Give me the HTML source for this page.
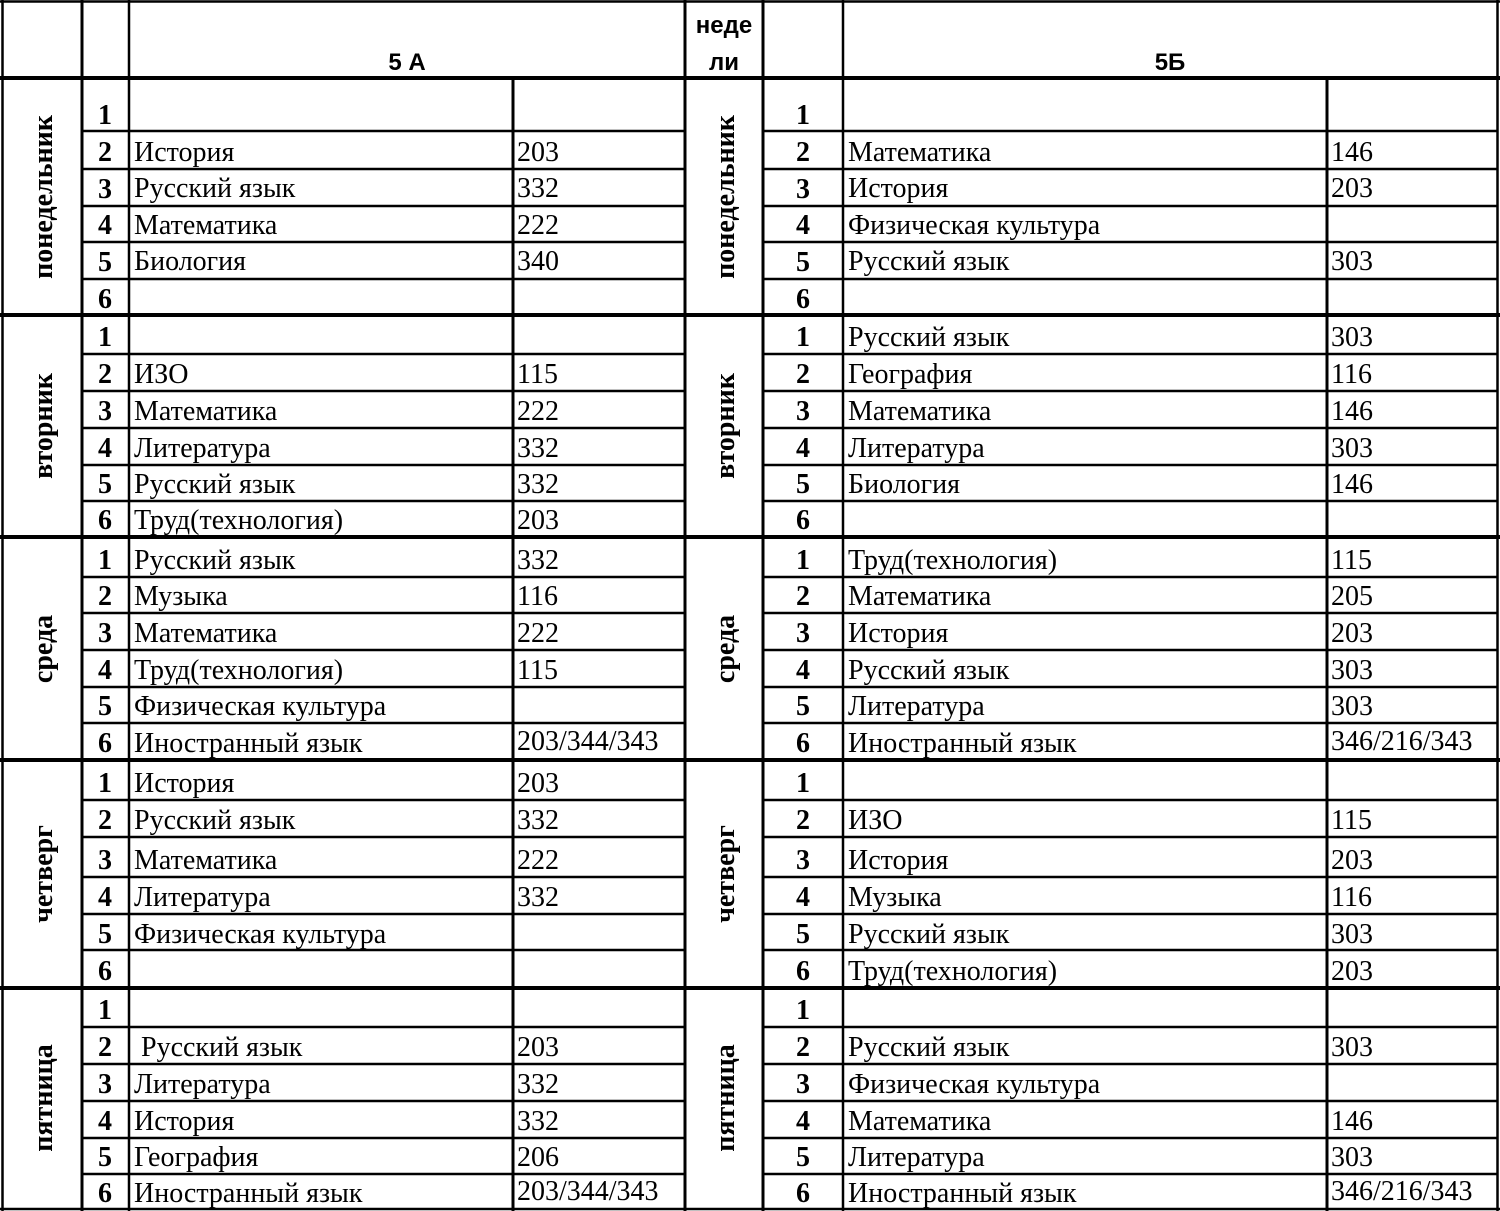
<!DOCTYPE html>
<html><head><meta charset="utf-8"><style>
html,body{margin:0;padding:0;background:#fff}
svg{display:block}
.s{font-family:"Liberation Serif","DejaVu Serif",serif;font-size:28px;fill:#000}
.n{font-family:"Liberation Serif",serif;font-size:28px;font-weight:bold;text-anchor:middle}
.d{font-family:"Liberation Serif",serif;font-size:28px;font-weight:bold;text-anchor:middle}
.h{font-family:"Liberation Sans","DejaVu Sans",sans-serif;font-size:24px;font-weight:bold;text-anchor:middle}
</style></head><body>
<svg width="1500" height="1211" xmlns="http://www.w3.org/2000/svg">
<g stroke="#000" stroke-width="2.5">
<line x1="0" y1="1.5" x2="1500" y2="1.5"/>
<line x1="0" y1="1209" x2="1500" y2="1209"/>
<line x1="2.5" y1="0" x2="2.5" y2="1211"/>
<line x1="1497.5" y1="0" x2="1497.5" y2="1211"/>
<line x1="82" y1="0" x2="82" y2="1211" stroke-width="3"/>
<line x1="129" y1="0" x2="129" y2="1211"/>
<line x1="685" y1="0" x2="685" y2="1211" stroke-width="3"/>
<line x1="763" y1="0" x2="763" y2="1211" stroke-width="3"/>
<line x1="843" y1="0" x2="843" y2="1211"/>
<line x1="513" y1="78" x2="513" y2="1211" stroke-width="3"/>
<line x1="1327" y1="78" x2="1327" y2="1211" stroke-width="3"/>
<g stroke-width="4">
<line x1="0" y1="78" x2="1500" y2="78"/>
<line x1="0" y1="315" x2="1500" y2="315"/>
<line x1="0" y1="537" x2="1500" y2="537"/>
<line x1="0" y1="760" x2="1500" y2="760"/>
<line x1="0" y1="988" x2="1500" y2="988"/>
</g>
<path d="M82 131H685M82 169H685M82 206H685M82 242H685M82 279H685
M82 354H685M82 391H685M82 428H685M82 465H685M82 501H685
M82 577H685M82 613H685M82 650H685M82 687H685M82 723H685
M82 800H685M82 837H685M82 877H685M82 914H685M82 950H685
M82 1027H685M82 1064H685M82 1101H685M82 1138H685M82 1174H685
M763 131H1497M763 169H1497M763 206H1497M763 242H1497M763 279H1497
M763 354H1497M763 391H1497M763 428H1497M763 465H1497M763 501H1497
M763 577H1497M763 613H1497M763 650H1497M763 687H1497M763 723H1497
M763 800H1497M763 837H1497M763 877H1497M763 914H1497M763 950H1497
M763 1027H1497M763 1064H1497M763 1101H1497M763 1138H1497M763 1174H1497" fill="none"/>
</g>
<text class="h" x="407" y="70">5 А</text>
<text class="h" x="1170" y="70">5Б</text>
<text class="h" x="724" y="33">неде</text>
<text class="h" x="724" y="70">ли</text>
<text class="d" transform="translate(52,197) rotate(-90)">понедельник</text>
<text class="d" transform="translate(52,426) rotate(-90)">вторник</text>
<text class="d" transform="translate(52,649) rotate(-90)">среда</text>
<text class="d" transform="translate(52,874) rotate(-90)">четверг</text>
<text class="d" transform="translate(52,1098) rotate(-90)">пятница</text>
<text class="d" transform="translate(734,197) rotate(-90)">понедельник</text>
<text class="d" transform="translate(734,426) rotate(-90)">вторник</text>
<text class="d" transform="translate(734,649) rotate(-90)">среда</text>
<text class="d" transform="translate(734,874) rotate(-90)">четверг</text>
<text class="d" transform="translate(734,1098) rotate(-90)">пятница</text>
<g class="n">
<text x="105" y="124">1</text><text x="105" y="161">2</text><text x="105" y="198">3</text><text x="105" y="234">4</text><text x="105" y="271">5</text><text x="105" y="308">6</text>
<text x="105" y="346">1</text><text x="105" y="383">2</text><text x="105" y="420">3</text><text x="105" y="457">4</text><text x="105" y="493">5</text><text x="105" y="529">6</text>
<text x="105" y="569">1</text><text x="105" y="605">2</text><text x="105" y="642">3</text><text x="105" y="679">4</text><text x="105" y="715">5</text><text x="105" y="752">6</text>
<text x="105" y="792">1</text><text x="105" y="829">2</text><text x="105" y="869">3</text><text x="105" y="906">4</text><text x="105" y="943">5</text><text x="105" y="980">6</text>
<text x="105" y="1019">1</text><text x="105" y="1056">2</text><text x="105" y="1093">3</text><text x="105" y="1130">4</text><text x="105" y="1166">5</text><text x="105" y="1202">6</text>
<text x="803" y="124">1</text><text x="803" y="161">2</text><text x="803" y="198">3</text><text x="803" y="234">4</text><text x="803" y="271">5</text><text x="803" y="308">6</text>
<text x="803" y="346">1</text><text x="803" y="383">2</text><text x="803" y="420">3</text><text x="803" y="457">4</text><text x="803" y="493">5</text><text x="803" y="529">6</text>
<text x="803" y="569">1</text><text x="803" y="605">2</text><text x="803" y="642">3</text><text x="803" y="679">4</text><text x="803" y="715">5</text><text x="803" y="752">6</text>
<text x="803" y="792">1</text><text x="803" y="829">2</text><text x="803" y="869">3</text><text x="803" y="906">4</text><text x="803" y="943">5</text><text x="803" y="980">6</text>
<text x="803" y="1019">1</text><text x="803" y="1056">2</text><text x="803" y="1093">3</text><text x="803" y="1130">4</text><text x="803" y="1166">5</text><text x="803" y="1202">6</text>
</g>
<g class="s">
<text x="134" y="161">История</text><text x="517" y="161">203</text>
<text x="134" y="197">Русский язык</text><text x="517" y="197">332</text>
<text x="134" y="234">Математика</text><text x="517" y="234">222</text>
<text x="134" y="270">Биология</text><text x="517" y="270">340</text>
<text x="134" y="383">ИЗО</text><text x="517" y="383">115</text>
<text x="134" y="420">Математика</text><text x="517" y="420">222</text>
<text x="134" y="457">Литература</text><text x="517" y="457">332</text>
<text x="134" y="493">Русский язык</text><text x="517" y="493">332</text>
<text x="134" y="529">Труд(технология)</text><text x="517" y="529">203</text>
<text x="134" y="569">Русский язык</text><text x="517" y="569">332</text>
<text x="134" y="605">Музыка</text><text x="517" y="605">116</text>
<text x="134" y="642">Математика</text><text x="517" y="642">222</text>
<text x="134" y="679">Труд(технология)</text><text x="517" y="679">115</text>
<text x="134" y="715">Физическая культура</text>
<text x="134" y="752">Иностранный язык</text><text x="517" y="750">203/344/343</text>
<text x="134" y="792">История</text><text x="517" y="792">203</text>
<text x="134" y="829">Русский язык</text><text x="517" y="829">332</text>
<text x="134" y="869">Математика</text><text x="517" y="869">222</text>
<text x="134" y="906">Литература</text><text x="517" y="906">332</text>
<text x="134" y="943">Физическая культура</text>
<text x="141" y="1056">Русский язык</text><text x="517" y="1056">203</text>
<text x="134" y="1093">Литература</text><text x="517" y="1093">332</text>
<text x="134" y="1130">История</text><text x="517" y="1130">332</text>
<text x="134" y="1166">География</text><text x="517" y="1166">206</text>
<text x="134" y="1202">Иностранный язык</text><text x="517" y="1200">203/344/343</text>
<text x="848" y="161">Математика</text><text x="1331" y="161">146</text>
<text x="848" y="197">История</text><text x="1331" y="197">203</text>
<text x="848" y="234">Физическая культура</text>
<text x="848" y="270">Русский язык</text><text x="1331" y="270">303</text>
<text x="848" y="346">Русский язык</text><text x="1331" y="346">303</text>
<text x="848" y="383">География</text><text x="1331" y="383">116</text>
<text x="848" y="420">Математика</text><text x="1331" y="420">146</text>
<text x="848" y="457">Литература</text><text x="1331" y="457">303</text>
<text x="848" y="493">Биология</text><text x="1331" y="493">146</text>
<text x="848" y="569">Труд(технология)</text><text x="1331" y="569">115</text>
<text x="848" y="605">Математика</text><text x="1331" y="605">205</text>
<text x="848" y="642">История</text><text x="1331" y="642">203</text>
<text x="848" y="679">Русский язык</text><text x="1331" y="679">303</text>
<text x="848" y="715">Литература</text><text x="1331" y="715">303</text>
<text x="848" y="752">Иностранный язык</text><text x="1331" y="750">346/216/343</text>
<text x="848" y="829">ИЗО</text><text x="1331" y="829">115</text>
<text x="848" y="869">История</text><text x="1331" y="869">203</text>
<text x="848" y="906">Музыка</text><text x="1331" y="906">116</text>
<text x="848" y="943">Русский язык</text><text x="1331" y="943">303</text>
<text x="848" y="980">Труд(технология)</text><text x="1331" y="980">203</text>
<text x="848" y="1056">Русский язык</text><text x="1331" y="1056">303</text>
<text x="848" y="1093">Физическая культура</text>
<text x="848" y="1130">Математика</text><text x="1331" y="1130">146</text>
<text x="848" y="1166">Литература</text><text x="1331" y="1166">303</text>
<text x="848" y="1202">Иностранный язык</text><text x="1331" y="1200">346/216/343</text>
</g>
</svg>
</body></html>
